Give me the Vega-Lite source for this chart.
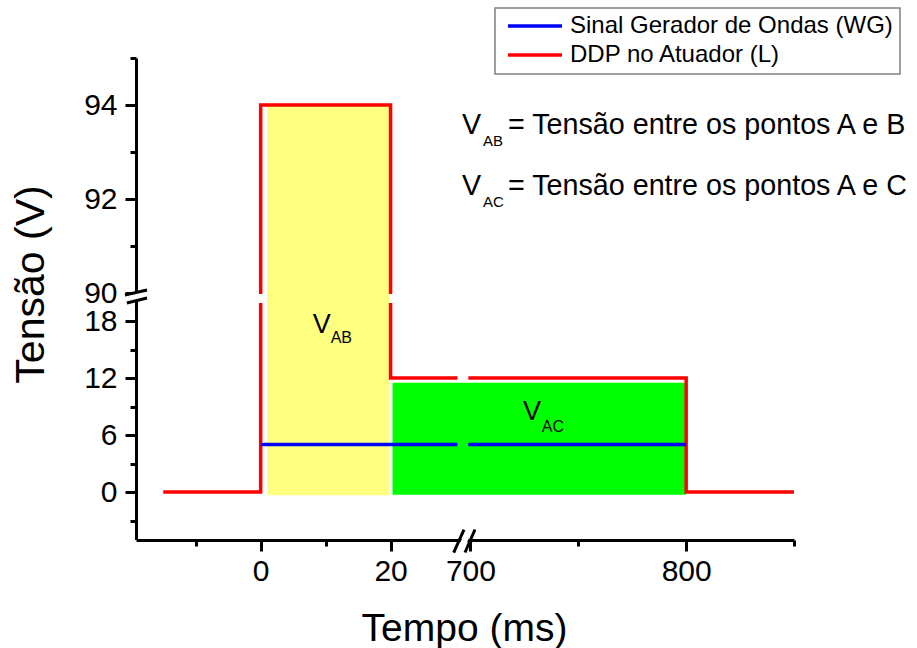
{
  "$schema": "https://vega.github.io/schema/vega-lite/v6.json",
  "width": 658,
  "height": 482,
  "autosize": {"type": "none"},
  "padding": {"left": 136, "top": 58, "right": 123, "bottom": 108},
  "background": "white",
  "config": {
    "view": {"stroke": null},
    "font": "Liberation Sans",
    "axis": {"grid": false},
    "legend": {"strokeWidth": 1.5}
  },
  "datasets": {
    "lines": [
      {"series": "DDP no Atuador (L)", "seg": "r1", "i": 1, "x": -15, "y": 0},
      {"series": "DDP no Atuador (L)", "seg": "r1", "i": 2, "x": 0, "y": 0},
      {"series": "DDP no Atuador (L)", "seg": "r1", "i": 3, "x": 0, "y": 19.9},
      {"series": "DDP no Atuador (L)", "seg": "r2", "i": 1, "x": 0, "y": 89.98},
      {"series": "DDP no Atuador (L)", "seg": "r2", "i": 2, "x": 0, "y": 94},
      {"series": "DDP no Atuador (L)", "seg": "r2", "i": 3, "x": 20, "y": 94},
      {"series": "DDP no Atuador (L)", "seg": "r2", "i": 4, "x": 20, "y": 89.98},
      {"series": "DDP no Atuador (L)", "seg": "r3", "i": 1, "x": 20, "y": 19.9},
      {"series": "DDP no Atuador (L)", "seg": "r3", "i": 2, "x": 20, "y": 12},
      {"series": "DDP no Atuador (L)", "seg": "r3", "i": 3, "x": 30.3, "y": 12},
      {"series": "DDP no Atuador (L)", "seg": "r4", "i": 1, "x": 699, "y": 12},
      {"series": "DDP no Atuador (L)", "seg": "r4", "i": 2, "x": 800, "y": 12},
      {"series": "DDP no Atuador (L)", "seg": "r4", "i": 3, "x": 800, "y": 0},
      {"series": "DDP no Atuador (L)", "seg": "r4", "i": 4, "x": 850, "y": 0},
      {"series": "Sinal Gerador de Ondas (WG)", "seg": "b1", "i": 1, "x": 0, "y": 5},
      {"series": "Sinal Gerador de Ondas (WG)", "seg": "b1", "i": 2, "x": 30.3, "y": 5},
      {"series": "Sinal Gerador de Ondas (WG)", "seg": "b2", "i": 1, "x": 699, "y": 5},
      {"series": "Sinal Gerador de Ondas (WG)", "seg": "b2", "i": 2, "x": 800, "y": 5}
    ],
    "regions": [
      {"region": "VAB", "x": 1.0, "x2": 19.8, "y": -0.35, "y2": 94},
      {"region": "VAC", "x": 20.3, "x2": 800, "y": -0.3, "y2": 11.5}
    ],
    "labels": [
      {"role": "big", "x": 8, "y": 16.74, "text": "V"},
      {"role": "big", "x": 724.3, "y": 7.58, "text": "V"},
      {"role": "sub", "x": 10.77, "y": 15.68, "text": "AB"},
      {"role": "sub", "x": 733.1, "y": 6.32, "text": "AC"},
      {"role": "annot", "x": 31, "y": 93.38, "text": "V"},
      {"role": "annot", "x": 717.4, "y": 93.38, "text": "= Tensão entre os pontos A e B"},
      {"role": "annot", "x": 31, "y": 92.08, "text": "V"},
      {"role": "annot", "x": 717.4, "y": 92.08, "text": "= Tensão entre os pontos A e C"},
      {"role": "annotsub", "x": 705.8, "y": 93.12, "text": "AB"},
      {"role": "annotsub", "x": 705.8, "y": 91.82, "text": "AC"}
    ],
    "breaks": [
      {"role": "white", "x": -20.7, "y": 20.32, "x2": -17.5, "y2": 89.979},
      {"role": "black", "x": -20.9, "y": 89.957, "x2": -17.5, "y2": 90.064},
      {"role": "black", "x": -20.6, "y": 19.895, "x2": -17.5, "y2": 20.42},
      {"role": "white", "x": 30.57, "y": -6.37, "x2": 699.5, "y2": -3.95},
      {"role": "black", "x": 29.72, "y": -6.37, "x2": 697, "y2": -3.95},
      {"role": "black", "x": 697.46, "y": -6.37, "x2": 702.1, "y2": -3.95}
    ]
  },
  "encoding": {
    "x": {
      "field": "x",
      "type": "quantitative",
      "scale": {"domain": [-19.2, 31, 697, 850], "range": [0, 326, 328, 658], "nice": false, "zero": false},
      "axis": {
        "title": "Tempo (ms)",
        "values": [-10, 0, 10, 20, 700, 750, 800, 850],
        "labelExpr": "indexof([0,20,700,800], datum.value) >= 0 ? datum.label : ''",
        "labelOverlap": false,
        "labelFlush": false,
        "labelFontSize": 30,
        "labelFont": "Liberation Sans",
        "labelColor": "black",
        "labelPadding": 5,
        "tickSize": {"condition": {"test": "indexof([0,20,700,800], datum.value) >= 0", "value": 11}, "value": 6},
        "tickWidth": 3,
        "tickColor": "black",
        "domainWidth": 3,
        "domainColor": "black",
        "titleFontSize": 39,
        "titleFont": "Liberation Sans",
        "titleFontWeight": "normal",
        "titleColor": "black",
        "titleX": 328,
        "titleY": 100,
        "titleBaseline": "alphabetic",
        "titleAlign": "center"
      }
    },
    "y": {
      "field": "y",
      "type": "quantitative",
      "scale": {"domain": [-5, 20.5, 89.95, 95], "range": [481.5, 239.25, 237.35, 0], "nice": false, "zero": false},
      "axis": {
        "title": "Tensão (V)",
        "values": [-3, 0, 3, 6, 9, 12, 15, 18, 90, 91, 92, 93, 94, 95],
        "labelExpr": "indexof([0,6,12,18,90,92,94], datum.value) >= 0 ? datum.label : ''",
        "labelOverlap": false,
        "labelFlush": false,
        "labelFontSize": 30,
        "labelFont": "Liberation Sans",
        "labelColor": "black",
        "labelPadding": 8,
        "tickSize": {"condition": {"test": "indexof([0,6,12,18,90,92,94], datum.value) >= 0", "value": 11}, "value": 6},
        "tickWidth": 3,
        "tickColor": "black",
        "domainWidth": 3,
        "domainColor": "black",
        "titleFontSize": 41,
        "titleFont": "Liberation Sans",
        "titleFontWeight": "normal",
        "titleColor": "black",
        "titleX": -93,
        "titleY": 226,
        "titleAngle": 270,
        "titleBaseline": "alphabetic",
        "titleAlign": "center"
      }
    }
  },
  "layer": [
    {
      "data": {"name": "regions"},
      "transform": [{"filter": "datum.region == 'VAB'"}],
      "mark": {"type": "rect", "color": "#FFFF80"},
      "encoding": {"x2": {"field": "x2"}, "y2": {"field": "y2"}}
    },
    {
      "data": {"name": "regions"},
      "transform": [{"filter": "datum.region == 'VAC'"}],
      "mark": {"type": "rect", "color": "#00FF00"},
      "encoding": {"x2": {"field": "x2"}, "y2": {"field": "y2"}}
    },
    {
      "data": {"name": "lines"},
      "mark": {"type": "line", "strokeWidth": 3.5, "strokeJoin": "miter", "strokeCap": "butt"},
      "encoding": {
        "detail": {"field": "seg"},
        "order": {"field": "i", "type": "quantitative"},
        "color": {
          "field": "series",
          "type": "nominal",
          "scale": {"domain": ["Sinal Gerador de Ondas (WG)", "DDP no Atuador (L)"], "range": ["#0000FF", "#FF0000"]},
          "legend": {
            "orient": "none",
            "legendX": 359,
            "legendY": -50,
            "title": null,
            "symbolType": "stroke",
            "symbolSize": 2916,
            "symbolStrokeWidth": 3.5,
            "labelFontSize": 24,
            "labelFont": "Liberation Sans",
            "labelColor": "black",
            "labelLimit": 600,
            "labelOffset": 6,
            "symbolOffset": 4,
            "padding": 7,
            "strokeColor": "#808080",
            "fillColor": "white",
            "clipHeight": 22,
            "rowPadding": 5
          }
        }
      }
    },
    {
      "data": {"name": "labels"},
      "transform": [{"filter": "datum.role == 'big'"}],
      "mark": {"type": "text", "fontSize": 27, "align": "left", "baseline": "alphabetic", "color": "black", "font": "Liberation Sans"},
      "encoding": {"text": {"field": "text"}}
    },
    {
      "data": {"name": "labels"},
      "transform": [{"filter": "datum.role == 'sub'"}],
      "mark": {"type": "text", "fontSize": 16, "align": "left", "baseline": "alphabetic", "color": "black", "font": "Liberation Sans"},
      "encoding": {"text": {"field": "text"}}
    },
    {
      "data": {"name": "labels"},
      "transform": [{"filter": "datum.role == 'annot'"}],
      "mark": {"type": "text", "fontSize": 28.7, "align": "left", "baseline": "alphabetic", "color": "black", "font": "Liberation Sans"},
      "encoding": {"text": {"field": "text"}}
    },
    {
      "data": {"name": "labels"},
      "transform": [{"filter": "datum.role == 'annotsub'"}],
      "mark": {"type": "text", "fontSize": 15, "align": "left", "baseline": "alphabetic", "color": "black", "font": "Liberation Sans"},
      "encoding": {"text": {"field": "text"}}
    },
    {
      "data": {"name": "breaks"},
      "transform": [{"filter": "datum.role == 'white'"}],
      "mark": {"type": "rule", "color": "white", "strokeWidth": 6},
      "encoding": {"x2": {"field": "x2"}, "y2": {"field": "y2"}}
    },
    {
      "data": {"name": "breaks"},
      "transform": [{"filter": "datum.role == 'black'"}],
      "mark": {"type": "rule", "color": "black", "strokeWidth": 3},
      "encoding": {"x2": {"field": "x2"}, "y2": {"field": "y2"}}
    }
  ]
}
